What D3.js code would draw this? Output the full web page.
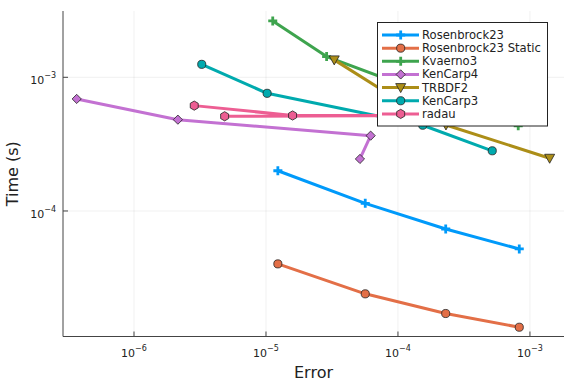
<!DOCTYPE html>
<html>
<head>
<meta charset="utf-8">
<script src="https://cdn.jsdelivr.net/npm/d3@7"></script>
<style>
  html, body { margin: 0; padding: 0; background: #fff; }
  svg { display: block; font-family: "DejaVu Sans", sans-serif; }
</style>
</head>
<body>
<svg id="chart" width="576" height="384"></svg>
<script>
// series names, in legend order
var seriesNames = ["Rosenbrock23", "Rosenbrock23 Static", "Kvaerno3", "KenCarp4", "TRBDF2", "KenCarp3", "radau"];

// errors (x) and times in seconds (y)
var rosenbrockErr = [1.23e-5, 5.65e-5, 2.30e-4, 8.30e-4];
var rosenbrockTime = [2.0e-4, 1.14e-4, 7.33e-5, 5.2e-5];
var staticErr = [1.23e-5, 5.65e-5, 2.30e-4, 8.30e-4];
var staticTime = [4.02e-5, 2.40e-5, 1.71e-5, 1.35e-5];
var kvaernoErr = [1.125e-5, 2.88e-5, 1.6e-4, 8.15e-4];
var kvaernoTime = [2.64e-3, 1.43e-3, 7.6e-4, 4.34e-4];
var kencarp4Err = [3.68e-7, 2.15e-6, 6.21e-5, 5.15e-5];
var kencarp4Time = [6.89e-4, 4.82e-4, 3.66e-4, 2.45e-4];
var trbdfErr = [3.29e-5, 1.03e-4, 2.31e-4, 1.41e-3];
var trbdfTime = [1.35e-3, 6.65e-4, 4.4e-4, 2.48e-4];
var kencarp3Err = [3.26e-6, 1.02e-5, 1.54e-4, 5.18e-4];
var kencarp3Time = [1.25e-3, 7.59e-4, 4.38e-4, 2.82e-4];
var radauErr = [2.86e-6, 1.59e-5, 1.75e-4, 4.86e-6];
var radauTime = [6.14e-4, 5.18e-4, 5.18e-4, 5.11e-4];

var xTicks = [1e-6, 1e-5, 1e-4, 1e-3];
var xTickExp = ["-6", "-5", "-4", "-3"];
var yTicks = [1e-4, 1e-3];
var yTickExp = ["-4", "-3"];

var colors = ["#009AFA", "#E36F47", "#3EA44E", "#C371D2", "#AC8E18", "#00AAAE", "#ED5E93"];
var shapes = ["cross", "circle", "cross", "diamond", "triangle", "circle", "hexagon"];
var errs = [rosenbrockErr, staticErr, kvaernoErr, kencarp4Err, trbdfErr, kencarp3Err, radauErr];
var times = [rosenbrockTime, staticTime, kvaernoTime, kencarp4Time, trbdfTime, kencarp3Time, radauTime];

(function () {
  "use strict";

  var svg = d3.select("#chart");
  var left = 63, right = 564, plotTop = 11, bottom = 336.5;

  var x = d3.scaleLog().domain([Math.pow(10, -6.538), Math.pow(10, -2.742)]).range([left, right]);
  var y = d3.scaleLog().domain([Math.pow(10, -4.939), Math.pow(10, -2.504)]).range([bottom, plotTop]);

  // grid
  var grid = svg.append("g").attr("stroke", "#000").attr("stroke-opacity", 0.1).attr("stroke-width", 0.6);
  xTicks.forEach(function (t) {
    grid.append("line").attr("x1", x(t)).attr("x2", x(t)).attr("y1", plotTop).attr("y2", bottom);
  });
  yTicks.forEach(function (t) {
    grid.append("line").attr("x1", left).attr("x2", right).attr("y1", y(t)).attr("y2", y(t));
  });

  // axes
  var axis = svg.append("g").attr("stroke", "#444").attr("stroke-width", 1);
  axis.append("line").attr("x1", left).attr("x2", right).attr("y1", bottom).attr("y2", bottom);
  axis.append("line").attr("x1", left).attr("x2", left).attr("y1", plotTop).attr("y2", bottom);
  xTicks.forEach(function (t) {
    axis.append("line").attr("x1", x(t)).attr("x2", x(t)).attr("y1", bottom).attr("y2", bottom - 5);
  });
  yTicks.forEach(function (t) {
    axis.append("line").attr("x1", left).attr("x2", left + 5).attr("y1", y(t)).attr("y2", y(t));
  });

  xTicks.forEach(function (t, i) {
    var txt = svg.append("text").attr("x", x(t)).attr("y", 356.5).attr("text-anchor", "middle")
      .attr("font-size", 11).attr("fill", "#222");
    txt.append("tspan").text("10");
    txt.append("tspan").attr("dy", -6).attr("font-size", 8).text("\u2212" + xTickExp[i].slice(1));
  });
  yTicks.forEach(function (t, i) {
    var txt = svg.append("text").attr("x", 56).attr("y", y(t) + 7).attr("text-anchor", "end")
      .attr("font-size", 11).attr("fill", "#222");
    txt.append("tspan").text("10");
    txt.append("tspan").attr("dy", -6).attr("font-size", 8).text("\u2212" + yTickExp[i].slice(1));
  });

  svg.append("text").attr("x", (left + right) / 2).attr("y", 378).attr("text-anchor", "middle")
    .attr("font-size", 16).attr("fill", "#222").text("Error");
  svg.append("text").attr("transform", "translate(18," + ((plotTop + bottom) / 2) + ") rotate(-90)")
    .attr("text-anchor", "middle").attr("font-size", 16).attr("fill", "#222").text("Time (s)");

  function markerPath(shape) {
    if (shape === "cross") {
      var a = 4.5, w = 1.4;
      return "M" + (-w) + "," + (-a) + "H" + w + "V" + (-w) + "H" + a + "V" + w + "H" + w + "V" + a +
        "H" + (-w) + "V" + w + "H" + (-a) + "V" + (-w) + "H" + (-w) + "Z";
    }
    if (shape === "circle") return d3.symbol(d3.symbolCircle, 52)();
    if (shape === "diamond") return "M0,-4.6L4.6,0L0,4.6L-4.6,0Z";
    if (shape === "triangle") return "M-5,-4L5,-4L0,5Z";
    if (shape === "hexagon") {
      var pts = d3.range(6).map(function (k) {
        var ang = Math.PI / 6 + k * Math.PI / 3;
        return [4.6 * Math.cos(ang), 4.6 * Math.sin(ang)];
      });
      return "M" + pts.join("L") + "Z";
    }
  }

  function drawMarker(g, shape, color, px, py) {
    var p = g.append("path").attr("d", markerPath(shape)).attr("transform", "translate(" + px + "," + py + ")")
      .attr("fill", color);
    if (shape === "cross") p.attr("stroke", "none");
    else p.attr("stroke", "#222").attr("stroke-width", 0.8);
  }

  var line = d3.line().x(function (d) { return x(d[0]); }).y(function (d) { return y(d[1]); });
  var plot = svg.append("g");
  seriesNames.forEach(function (name, i) {
    var pts = errs[i].map(function (e, k) { return [e, times[i][k]]; });
    var g = plot.append("g");
    g.append("path").attr("d", line(pts)).attr("fill", "none").attr("stroke", colors[i])
      .attr("stroke-width", 3).attr("stroke-linejoin", "round");
    pts.forEach(function (p) { drawMarker(g, shapes[i], colors[i], x(p[0]), y(p[1])); });
  });

  // legend
  var lg = svg.append("g");
  lg.append("rect").attr("x", 377.5).attr("y", 22.5).attr("width", 170).attr("height", 103.5)
    .attr("fill", "#fff").attr("stroke", "#222").attr("stroke-width", 1);
  seriesNames.forEach(function (name, i) {
    var ly = 35 + i * 13.15;
    lg.append("line").attr("x1", 382).attr("x2", 419).attr("y1", ly).attr("y2", ly)
      .attr("stroke", colors[i]).attr("stroke-width", 3);
    drawMarker(lg, shapes[i], colors[i], 400.7, ly);
    lg.append("text").attr("x", 422).attr("y", ly + 4).attr("font-size", 11.6).attr("fill", "#222").text(name);
  });
}());
</script>
</body>
</html>
